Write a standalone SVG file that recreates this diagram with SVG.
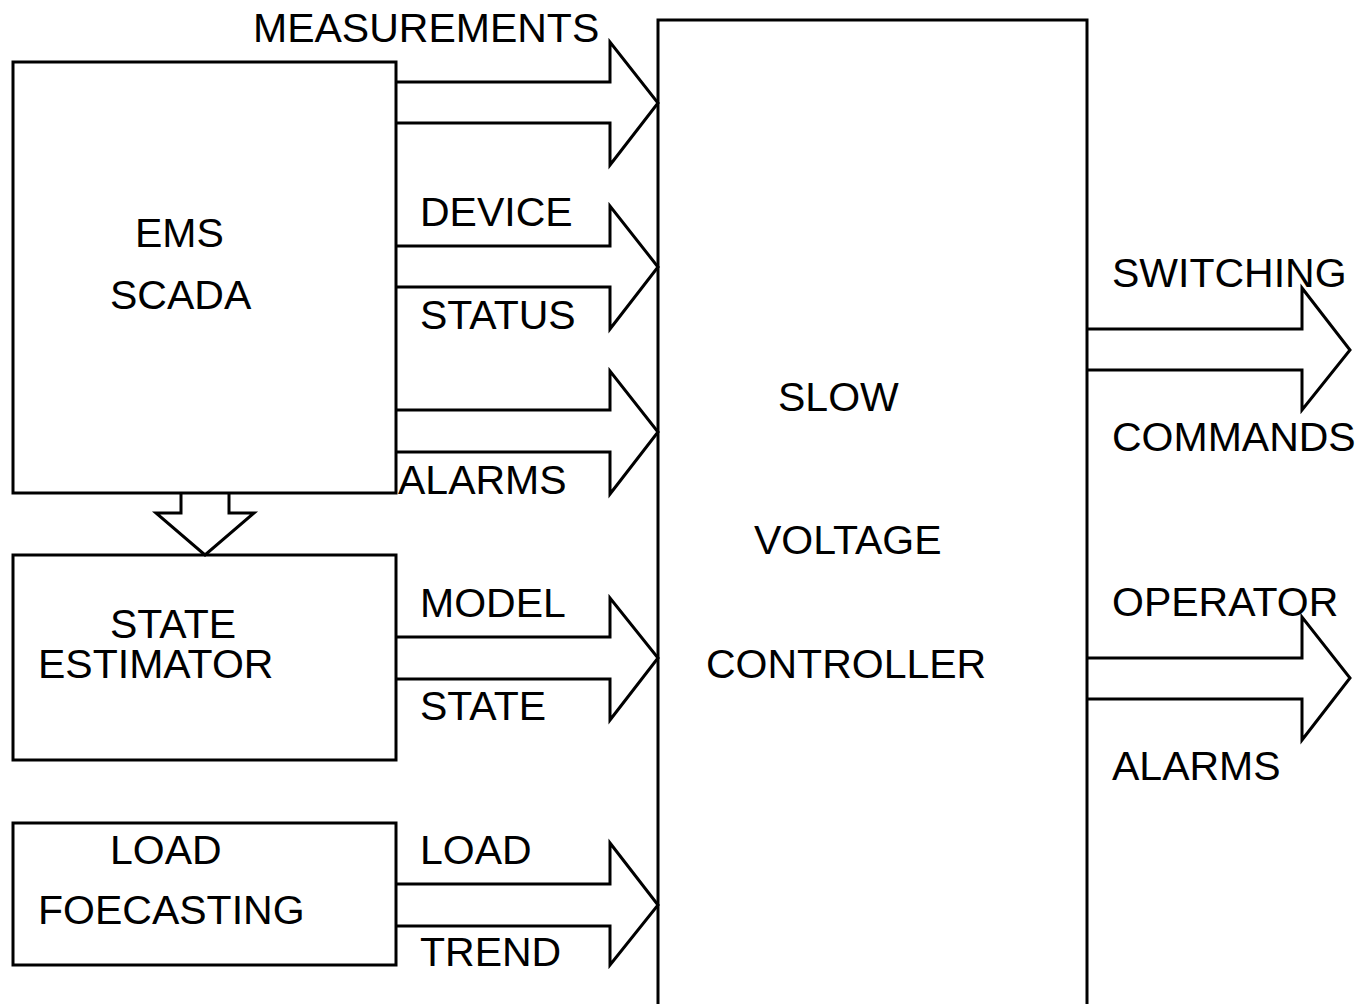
<svg xmlns="http://www.w3.org/2000/svg" width="1357" height="1004" viewBox="0 0 1357 1004">
<style>
.b{fill:#fff;stroke:#000;stroke-width:3}
.a{fill:none;stroke:#000;stroke-width:3;stroke-linejoin:miter}
text{font-family:"Liberation Sans",Arial,sans-serif;font-size:41px;fill:#000}
</style>
<rect width="1357" height="1004" fill="#fff"/>
<g id="ems"><rect class="b" x="13" y="62" width="383" height="431"/><text x="135" y="247">EMS</text><text x="110" y="309">SCADA</text></g>
<g id="state-estimator"><rect class="b" x="13" y="555" width="383" height="205"/><text x="110" y="638">STATE</text><text x="38" y="678">ESTIMATOR</text></g>
<g id="load-forecasting"><rect class="b" x="13" y="823" width="383" height="142"/><text x="110" y="864">LOAD</text><text x="38" y="924">FOECASTING</text></g>
<g id="controller"><path class="a" d="M658 1006 V20 H1087 V1006"/><text x="778" y="411">SLOW</text><text x="754" y="554">VOLTAGE</text><text x="706" y="678">CONTROLLER</text></g>
<g id="connectors">
<path class="a" d="M396 82 H610 V42 L658 103 L610 165 V123 H396"/>
<path class="a" d="M396 246 H610 V206 L658 267 L610 329 V287 H396"/>
<path class="a" d="M396 410 H610 V371 L658 432 L610 494 V452 H396"/>
<path class="a" d="M396 637 H610 V598 L658 658 L610 720 V679 H396"/>
<path class="a" d="M396 884 H610 V843 L658 905 L610 965 V926 H396"/>
<path class="a" d="M1087 329 H1302 V288 L1350 350 L1302 410 V370 H1087"/>
<path class="a" d="M1087 658 H1302 V617 L1350 678 L1302 740 V699 H1087"/>
<path class="a" d="M181 493 V513 H156 L205 555 L254 513 H229 V493"/>
</g>
<g id="labels">
<text x="253" y="42">MEASUREMENTS</text>
<text x="420" y="226">DEVICE</text>
<text x="420" y="329">STATUS</text>
<text x="398" y="494">ALARMS</text>
<text x="420" y="617">MODEL</text>
<text x="420" y="720">STATE</text>
<text x="420" y="864">LOAD</text>
<text x="420" y="966">TREND</text>
<text x="1112" y="287">SWITCHING</text>
<text x="1112" y="451">COMMANDS</text>
<text x="1112" y="616">OPERATOR</text>
<text x="1112" y="780">ALARMS</text>
</g>
</svg>
